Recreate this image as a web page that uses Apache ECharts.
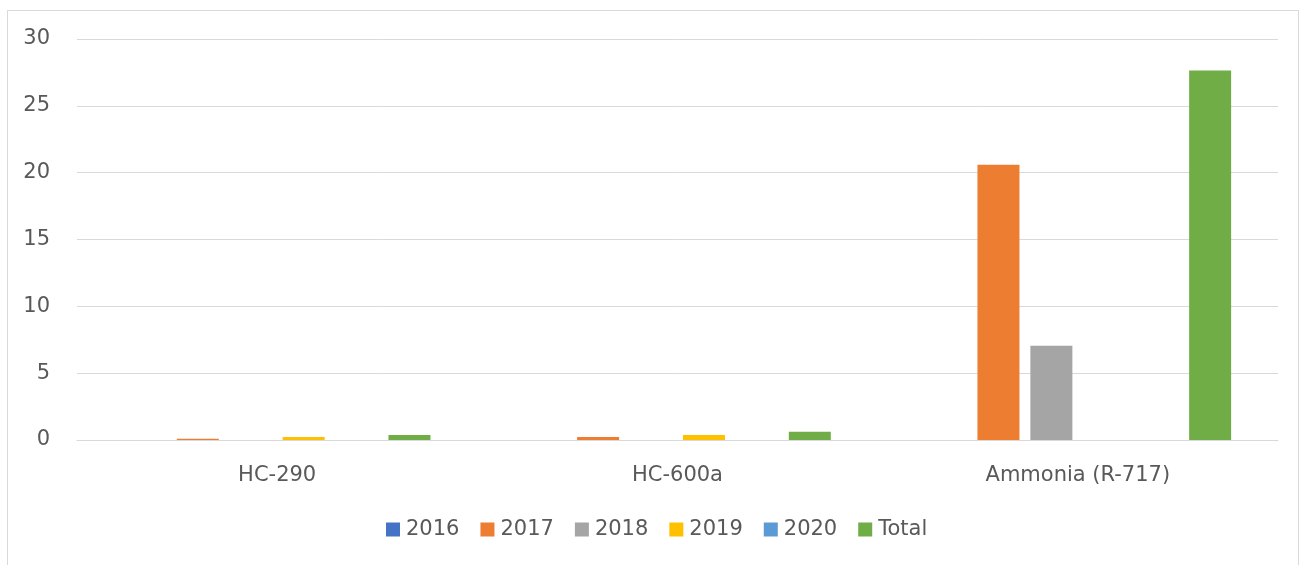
<!DOCTYPE html>
<html>
<head>
<meta charset="utf-8">
<script src="https://cdn.jsdelivr.net/npm/echarts@6/dist/echarts.min.js"></script>
<style>
  html, body { margin: 0; padding: 0; background: #fff; }
  #frame { position: absolute; left: 7px; top: 10px; width: 1292px; height: 570px; border: 1px solid #d9d9d9; box-sizing: border-box; }
  #chart { position: absolute; left: 0; top: 0; width: 1309px; height: 565px; }
</style>
</head>
<body>
<div id="frame"></div>
<div id="chart"></div>
<script>
const categories = ["HC-290", "HC-600a", "Ammonia (R-717)"];
const seriesNames = ["2016", "2017", "2018", "2019", "2020", "Total"];
const colors = ["#4472C4", "#ED7D31", "#A5A5A5", "#FFC000", "#5B9BD5", "#70AD47"];
const values2016 = [0, 0, 0];
const values2017 = [0.1, 0.22, 20.6];
const values2018 = [0, 0, 7.05];
const values2019 = [0.22, 0.37, 0];
const values2020 = [0, 0, 0];
const valuesTotal = [0.37, 0.62, 27.65];
const allValues = [values2016, values2017, values2018, values2019, values2020, valuesTotal];

const font = "'DejaVu Sans', sans-serif";
const chart = echarts.init(document.getElementById("chart"));
const option = {
  animation: false,
  grid: { left: 77, right: 31, top: 39, bottom: 125, containLabel: false },
  legend: {
    bottom: 20,
    left: 381,
    itemWidth: 14,
    itemHeight: 14,
    itemGap: 21,
    icon: 'rect',
    textStyle: { fontFamily: font, fontSize: 21, color: '#595959', padding: [0, 0, 0, 1] },
    data: seriesNames
  },
  xAxis: {
    type: 'category',
    data: categories,
    axisLine: { lineStyle: { color: '#d9d9d9', width: 1 } },
    axisTick: { show: false },
    axisLabel: { fontFamily: font, fontSize: 21, color: '#595959', margin: 25 }
  },
  yAxis: {
    type: 'value',
    min: 0,
    max: 30,
    interval: 5,
    axisLine: { show: false },
    axisTick: { show: false },
    axisLabel: { fontFamily: font, fontSize: 21, color: '#595959', margin: 27 },
    splitLine: { lineStyle: { color: '#d9d9d9', width: 1 } }
  },
  series: seriesNames.map((name, i) => ({
    name: name,
    type: 'bar',
    data: allValues[i],
    barWidth: 42,
    barGap: '26%',
    itemStyle: { color: colors[i] }
  }))
};
chart.setOption(option);
</script>
</body>
</html>
